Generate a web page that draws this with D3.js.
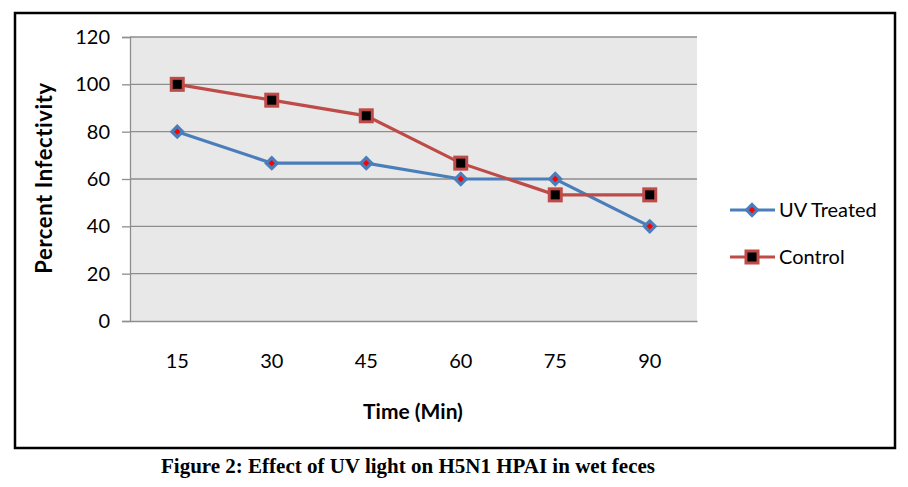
<!DOCTYPE html>
<html>
<head>
<meta charset="utf-8">
<script src="https://cdn.jsdelivr.net/npm/d3@7"></script>
<style>
  body { margin: 0; background: #fff; }
  svg text { fill: #000; }
</style>
</head>
<body>
<svg id="chart" width="908" height="487"></svg>
<script>
// chart data
var times = ["15", "30", "45", "60", "75", "90"];
var uvTreated = [80, 66.7, 66.7, 60, 60, 40];
var control = [100, 93.3, 86.7, 66.7, 53.3, 53.3];
var yTicks = [0, 20, 40, 60, 80, 100, 120];

var sans = "Lato, 'Open Sans', sans-serif";
var svg = d3.select("#chart");

// outer frame
svg.append("rect")
  .attr("x", 15).attr("y", 13)
  .attr("width", 880).attr("height", 435)
  .attr("fill", "none")
  .attr("stroke", "#000")
  .attr("stroke-width", 2.5);

var plot = { left: 130, right: 697, top: 37, bottom: 321 };

var x = d3.scaleBand()
  .domain(times)
  .range([plot.left, plot.right]);

var y = d3.scaleLinear()
  .domain([0, 120])
  .range([plot.bottom, plot.top]);

// plot background
svg.append("rect")
  .attr("x", plot.left).attr("y", plot.top)
  .attr("width", plot.right - plot.left)
  .attr("height", plot.bottom - plot.top)
  .attr("fill", "#e8e8e8");

// gridlines
svg.append("g")
  .selectAll("line")
  .data(yTicks.filter(function (d) { return d > 0; }))
  .enter()
  .append("line")
  .attr("x1", plot.left).attr("x2", plot.right)
  .attr("y1", function (d) { return y(d); })
  .attr("y2", function (d) { return y(d); })
  .attr("stroke", "#8e8e8e")
  .attr("stroke-width", 1.3);

// y axis
var yAxis = svg.append("g")
  .attr("transform", "translate(" + plot.left + ",0)")
  .call(d3.axisLeft(y).tickValues(yTicks).tickSize(8).tickPadding(12));
yAxis.select(".domain").attr("stroke", "#8e8e8e").attr("stroke-width", 1.3);
yAxis.selectAll(".tick line").attr("stroke", "#8e8e8e").attr("stroke-width", 1.3);
yAxis.selectAll(".tick text")
  .style("font-size", "20px")
  .style("font-family", sans)
  .attr("fill", "#000");

// x axis
var xAxis = svg.append("g")
  .attr("transform", "translate(0," + plot.bottom + ")")
  .call(d3.axisBottom(x).tickSize(0).tickPadding(33));
xAxis.select(".domain").attr("stroke", "#8e8e8e").attr("stroke-width", 1.3);
xAxis.selectAll(".tick text")
  .style("font-size", "20px")
  .style("font-family", sans)
  .attr("fill", "#000");

// axis titles
svg.append("text")
  .attr("x", 413).attr("y", 419)
  .attr("text-anchor", "middle")
  .style("font-family", sans)
  .style("font-size", "21px")
  .style("font-weight", "bold")
  .text("Time (Min)");

svg.append("text")
  .attr("transform", "translate(52,178) rotate(-90)")
  .attr("text-anchor", "middle")
  .style("font-family", sans)
  .style("font-size", "22px")
  .style("font-weight", "bold")
  .style("letter-spacing", "0.6px")
  .text("Percent Infectivity");

var line = d3.line()
  .x(function (d, i) { return x(times[i]) + x.bandwidth() / 2; })
  .y(function (d) { return y(d); });

var diamond = d3.symbol().type(d3.symbolDiamond2).size(150);
var diamondDot = d3.symbol().type(d3.symbolDiamond2).size(26);

function drawUvMarker(g) {
  g.append("path").attr("d", diamond).attr("fill", "#4a7ebb");
  g.append("path").attr("d", diamondDot).attr("fill", "#ff0000");
}
function drawControlMarker(g) {
  g.append("rect")
    .attr("x", -6).attr("y", -6).attr("width", 12).attr("height", 12)
    .attr("fill", "#000")
    .attr("stroke", "#be4b48")
    .attr("stroke-width", 3);
}

// lines
svg.append("path")
  .datum(uvTreated)
  .attr("d", line)
  .attr("fill", "none")
  .attr("stroke", "#4a7ebb")
  .attr("stroke-width", 3.2);

svg.append("path")
  .datum(control)
  .attr("d", line)
  .attr("fill", "none")
  .attr("stroke", "#be4b48")
  .attr("stroke-width", 3.2);

// markers
svg.append("g").selectAll("g")
  .data(uvTreated)
  .enter()
  .append("g")
  .attr("transform", function (d, i) {
    return "translate(" + (x(times[i]) + x.bandwidth() / 2) + "," + y(d) + ")";
  })
  .each(function () { drawUvMarker(d3.select(this)); });

svg.append("g").selectAll("g")
  .data(control)
  .enter()
  .append("g")
  .attr("transform", function (d, i) {
    return "translate(" + (x(times[i]) + x.bandwidth() / 2) + "," + y(d) + ")";
  })
  .each(function () { drawControlMarker(d3.select(this)); });

// legend
var legendItems = [
  { name: "UV Treated", color: "#4a7ebb", marker: drawUvMarker, y: 210 },
  { name: "Control", color: "#be4b48", marker: drawControlMarker, y: 257 }
];
var legend = svg.append("g").selectAll("g")
  .data(legendItems)
  .enter()
  .append("g")
  .attr("transform", function (d) { return "translate(730," + d.y + ")"; });
legend.append("line")
  .attr("x1", 0).attr("x2", 45)
  .attr("stroke", function (d) { return d.color; })
  .attr("stroke-width", 3.2);
legend.append("g")
  .attr("transform", "translate(22,0)")
  .each(function (d) { d.marker(d3.select(this)); });
legend.append("text")
  .attr("x", 49).attr("y", 7)
  .style("font-family", sans)
  .style("font-size", "20px")
  .text(function (d) { return d.name; });

// caption
svg.append("text")
  .attr("x", 408).attr("y", 473)
  .attr("text-anchor", "middle")
  .style("font-family", "'Liberation Serif', 'DejaVu Serif', serif")
  .style("font-weight", "bold")
  .style("font-size", "21px")
  .text("Figure 2: Effect of UV light on H5N1 HPAI in wet feces");
</script>
</body>
</html>
